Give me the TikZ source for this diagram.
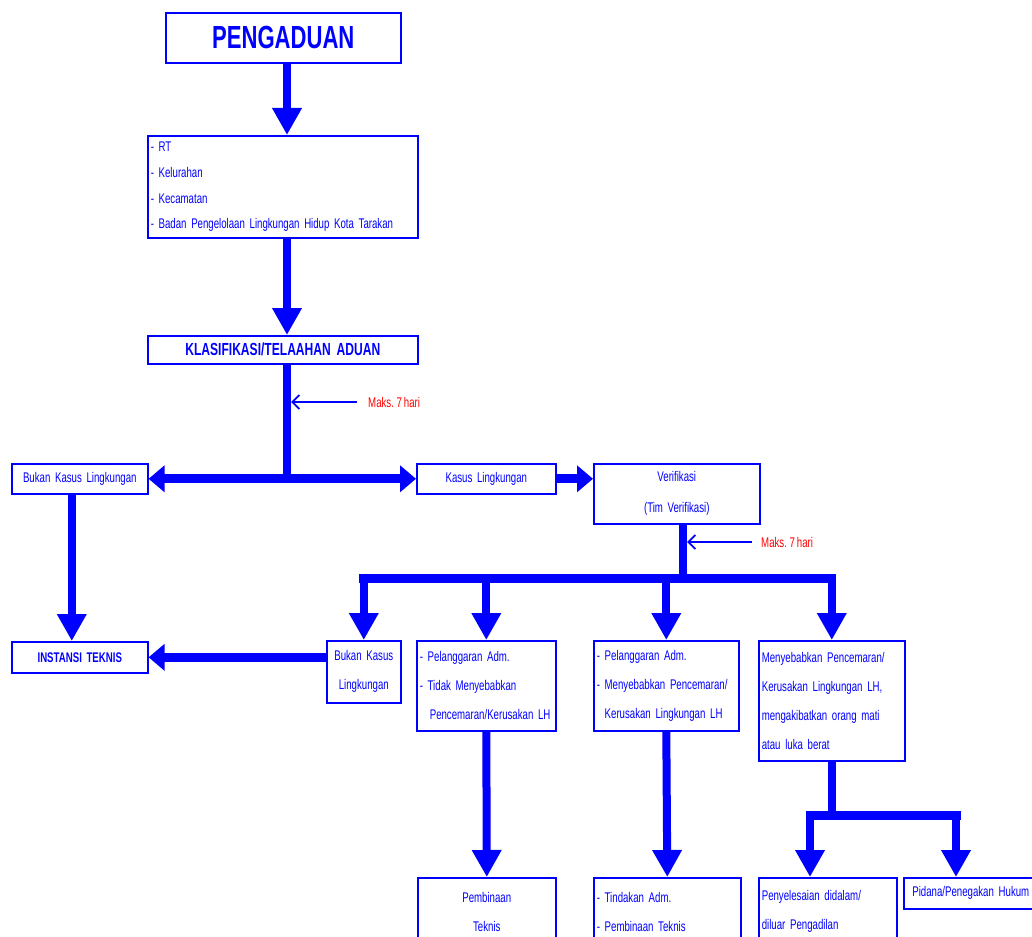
\documentclass[tikz,border=0pt]{standalone}
\usepackage{fontspec}
\usepackage{tikz}
\usetikzlibrary{arrows.meta}
\newfontfamily\narrowsf[FakeStretch=0.69,WordSpace=0.7]{Liberation Sans}
\definecolor{lineblue}{RGB}{0,0,255}
\definecolor{maksred}{RGB}{255,0,0}

\begin{document}
\begin{tikzpicture}[x=1pt,y=-1pt,
  box/.style={draw=lineblue,line width=1.6pt,anchor=north west,inner xsep=3pt,inner ysep=0pt,
    text=lineblue,font=\narrowsf\fontsize{14}{29}\selectfont},
  down/.style={draw=lineblue,line width=8pt,-{Triangle[width=28pt,length=27pt]}},
  side/.style={draw=lineblue,line width=9pt,-{Triangle[width=26pt,length=16pt]}},
  bar/.style={draw=lineblue,line width=9pt,line cap=rect},
  shaft/.style={draw=lineblue,line width=8pt},
  thin/.style={draw=lineblue,line width=1.8pt,-{Straight Barb[width=14pt,length=7pt]}},
  maks/.style={anchor=west,inner sep=0pt,text=maksred,font=\narrowsf\fontsize{14}{16}\selectfont}]
\clip (0,0) rectangle (1032,936);

\node [box,text width=229pt,minimum height=50pt,align=center,font=\narrowsf\bfseries\fontsize{32}{36}\selectfont] (pg) at (165,12) {PENGADUAN};
\node [box,text width=264pt,minimum height=102pt,align=left,font=\narrowsf\fontsize{14}{25.7}\selectfont] (rt) at (147,135)
  {- RT\\- Kelurahan\\- Kecamatan\\- Badan Pengelolaan Lingkungan Hidup Kota Tarakan};
\node [box,text width=264pt,minimum height=28pt,align=center,font=\narrowsf\bfseries\fontsize{17.5}{20}\selectfont] (kl) at (147,335) {KLASIFIKASI/TELAAHAN ADUAN};

\node [box,text width=130pt,minimum height=30pt,align=center] (bk) at (11,463) {Bukan Kasus Lingkungan};
\node [box,text width=133pt,minimum height=30pt,align=center] (kas) at (416,463) {Kasus Lingkungan};
\node [box,text width=160pt,minimum height=60pt,align=center,font=\narrowsf\fontsize{14}{31}\selectfont] (ver) at (593,463) {Verifikasi\\(Tim Verifikasi)};

\node [box,text width=130pt,minimum height=31pt,align=center,font=\narrowsf\bfseries\fontsize{14}{16}\selectfont] (it) at (11,641) {INSTANSI TEKNIS};
\node [box,text width=68pt,minimum height=62pt,align=center] (bk2) at (326,640) {Bukan Kasus\\Lingkungan};
\node [box,text width=133pt,minimum height=90pt,align=left] (adm) at (416,640)
  {- Pelanggaran Adm.\\- Tidak Menyebabkan\\\hspace*{10pt}Pencemaran/Kerusakan LH};
\node [box,text width=139pt,minimum height=90pt,align=left] (adm2) at (593,640)
  {- Pelanggaran Adm.\\- Menyebabkan Pencemaran/\\\phantom{- }Kerusakan Lingkungan LH};
\node [box,text width=140pt,minimum height=120pt,align=left] (pid) at (758,640)
  {Menyebabkan Pencemaran/\\Kerusakan Lingkungan LH,\\mengakibatkan orang mati\\atau luka berat};

\node [box,text width=132pt,minimum height=68pt,align=center] (pt) at (417,877) {Pembinaan\\Teknis};
\node [box,text width=141pt,minimum height=68pt,align=left] (ta) at (593,877) {- Tindakan Adm.\\- Pembinaan Teknis};
\node [box,text width=132pt,minimum height=68pt,align=left] (ps) at (758,877) {Penyelesaian didalam/\\diluar Pengadilan};
\node [box,text width=128pt,minimum height=31pt,align=center] (ph) at (903,877) {Pidana/Penegakan Hukum};

\coordinate (s1) at (287,478);
\coordinate (s2) at (683,578);
\coordinate (s3) at (832,815);
\coordinate (s3l) at (810,815);
\coordinate (s3r) at (956,815);
\coordinate (h1) at (291,401);
\coordinate (h2) at (687,540);

\draw [down] (pg.south -| s1) -- (rt.north -| s1);
\draw [down] (rt.south -| s1) -- (kl.north -| s1);
\draw [shaft] (kl.south -| s1) -- (s1);
\draw [side,{Triangle[width=26pt,length=16pt]}-{Triangle[width=26pt,length=16pt]}] (bk.east) -- (kas.west);
\draw [side] (kas.east) -- (kas.east -| ver.west);

\node [maks] (m1) at (368,402) {Maks. 7 hari};
\draw [thin] ([xshift=-11pt]m1.west) -- (m1.west -| h1);
\node [maks] (m2) at (761,542) {Maks. 7 hari};
\draw [thin] ([xshift=-9pt]m2.west) -- (m2.west -| h2);

\draw [down] ([xshift=-8pt]bk.south) -- ([xshift=-8pt]it.north);
\draw [shaft] (ver.south -| s2) -- (s2);
\draw [bar] (bk2.north |- s2) -- (pid.north |- s2);
\draw [down] (bk2.north |- s2) -- (bk2.north);
\draw [down] (adm.north |- s2) -- (adm.north);
\draw [down] (adm2.north |- s2) -- (adm2.north);
\draw [down] (pid.north |- s2) -- (pid.north);
\draw [side] (it.east -| bk2.west) -- (it.east);

\draw [down] (adm.south) -- (pt.north);
\draw [down] (adm2.south) -- (ta.north);
\draw [shaft] (pid.south -| s3) -- (s3);
\draw [bar] (s3l) -- (s3r);
\draw [down] (s3l) -- (s3l |- ps.north);
\draw [down] (s3r) -- (s3r |- ph.north);
\end{tikzpicture}
\end{document}
